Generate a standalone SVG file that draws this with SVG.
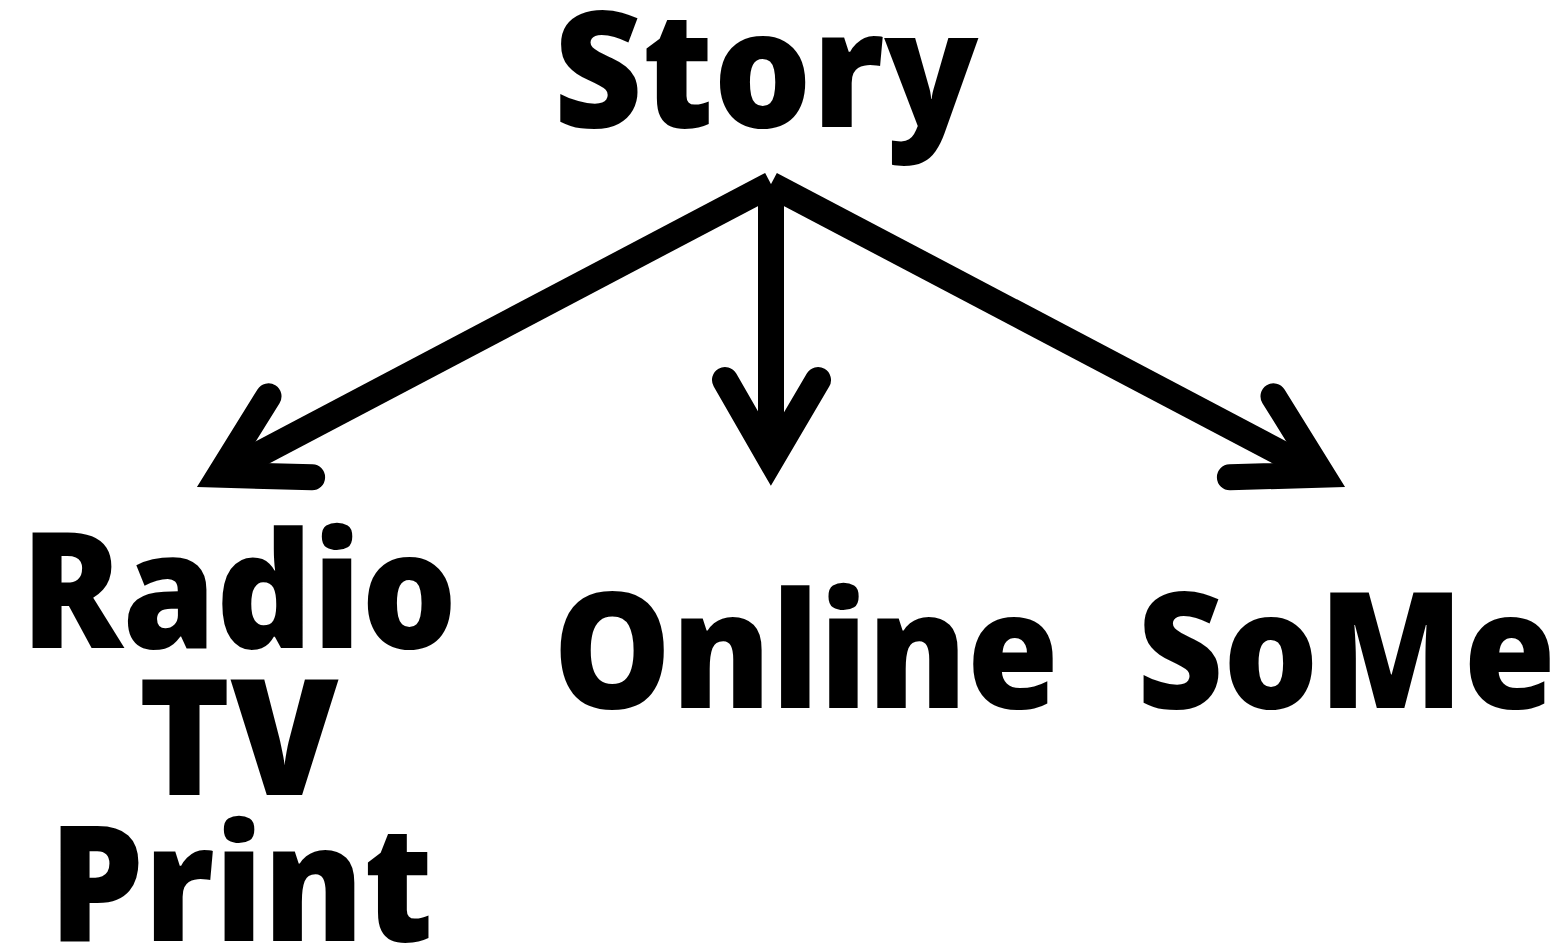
<svg xmlns="http://www.w3.org/2000/svg" width="1563" height="947" viewBox="0 0 1563 947">
<style>
.t{font-family:"Noto Sans","Liberation Sans",sans-serif;font-weight:900;font-size:162px;fill:#000;text-anchor:middle}
.shaft{fill:none;stroke:#000;stroke-width:26;stroke-linecap:butt}
.head{fill:none;stroke:#000;stroke-width:26;stroke-linecap:round;stroke-linejoin:miter;stroke-miterlimit:10}
</style>
<rect width="1563" height="947" fill="#fff"/>
<g id="connectors">
<path class="shaft" d="M771,184 L771,462"/>
<path class="head" d="M725,380 L771,460 L818,380"/>
<path class="shaft" d="M771.2,184.4 L222,473.7"/>
<path class="head" d="M268.5,396.3 L219.9,474.7 L312.1,477.3"/>
<path class="shaft" d="M770.8,184.4 L1320,473.7"/>
<path class="head" d="M1273.5,396.3 L1322.1,474.7 L1229.9,477.3"/>
</g>
<g id="story"><text class="t" x="766" y="127" textLength="425" lengthAdjust="spacingAndGlyphs">Story</text></g>
<g id="radio-tv-print">
<text class="t" x="239" y="648" textLength="436" lengthAdjust="spacingAndGlyphs">Radio</text>
<text class="t" x="238.5" y="795" textLength="200" lengthAdjust="spacingAndGlyphs">TV</text>
<text class="t" x="241" y="941" textLength="384" lengthAdjust="spacingAndGlyphs">Print</text>
</g>
<g id="online"><text class="t" x="806" y="708" textLength="506" lengthAdjust="spacingAndGlyphs">Online</text></g>
<g id="some"><text class="t" x="1346.5" y="708" textLength="419" lengthAdjust="spacingAndGlyphs">SoMe</text></g>
</svg>
